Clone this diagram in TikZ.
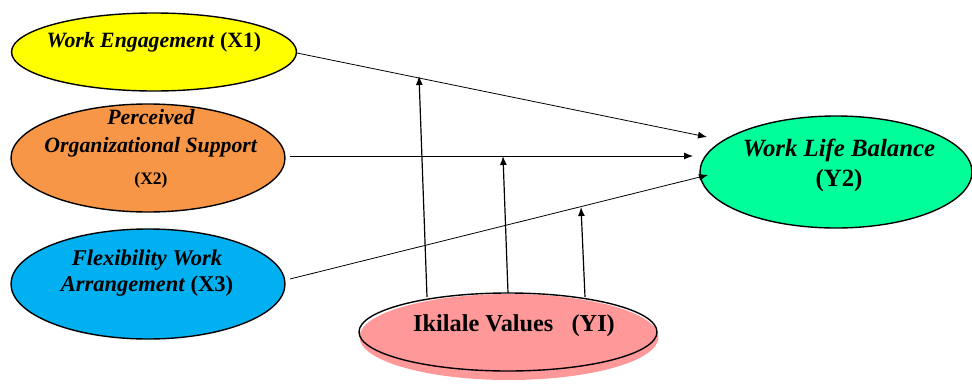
\documentclass[tikz,border=0pt]{standalone}
\usepackage{fontspec}
\setmainfont{Liberation Serif}
\usetikzlibrary{shapes.geometric,arrows.meta}
\definecolor{yel}{RGB}{255,255,0}
\definecolor{ora}{RGB}{247,150,70}
\definecolor{blu}{RGB}{0,176,240}
\definecolor{pnk}{RGB}{255,153,153}
\definecolor{grn}{RGB}{0,255,153}
\begin{document}
\begin{tikzpicture}[x=1pt,y=-1pt,
  oval/.style={ellipse,draw=black,line width=1.4pt,inner sep=0pt},
  lbl/.style={align=center,inner sep=0pt},
  arr/.style={-{Latex[length=9pt,width=7pt]},line width=0.8pt},
  varr/.style={-{Latex[length=9pt,width=7pt]},line width=1.2pt}]
\useasboundingbox (0,0) rectangle (972,383);
% ovals
\node[oval,fill=yel,minimum width=285pt,minimum height=78pt] (x1) at (154,52) {};
\node[oval,fill=ora,minimum width=274pt,minimum height=108pt] (x2) at (148,158) {};
\node[oval,fill=blu,minimum width=274pt,minimum height=110pt] (x3) at (148,284) {};
\node[oval,fill=grn,minimum width=272pt,minimum height=112pt] (y2) at (836,172) {};
\fill[pnk] (509,337) ellipse [x radius=149.5, y radius=43];
\node[oval,minimum width=298pt,minimum height=78pt] (yi) at (508,332) {};
% labels
\node[lbl,font=\fontsize{21.8}{24}\selectfont\bfseries] (x1t) at (154,42) {\textit{Work Engagement} (X1)};
\node[lbl,font=\fontsize{21.8}{28}\selectfont\bfseries] (x2t) at (151,133) {\textit{Perceived}\\\textit{Organizational Support}};
\node[lbl,font=\fontsize{17.5}{20}\selectfont\bfseries] (x2n) at (151,180) {(X2)};
\node[lbl,font=\fontsize{22.5}{26}\selectfont\bfseries] (x3t) at (147,273) {\textit{Flexibility Work}\\\textit{Arrangement} (X3)};
\node[lbl,font=\fontsize{24.8}{30}\selectfont\bfseries] (y2t) at (839,165) {\textit{Work Life Balance}\\(Y2)};
\node[lbl,font=\fontsize{24.3}{26}\selectfont\bfseries] (yit) at (514,326) {Ikilale Values\ \ \ (YI)};
% arrow ends
\coordinate (t1) at (707,137);
\coordinate (t2) at (693,156);
\coordinate (t3) at (708,175);
\coordinate (s1) at (297,53);
\coordinate (s2) at (290,156);
\coordinate (s3) at (290,279);
\coordinate (ya) at (427,297);
\coordinate (yb) at (508,293);
\coordinate (yc) at (585,297);
\coordinate (ta) at (419,76);
\coordinate (tb) at (503,156);
\coordinate (tc) at (581,207);
\draw[arr] (s1) -- (t1);
\draw[arr] (s2) -- (t2);
\draw[arr] (s3) -- (t3);
\draw[varr] (ya) -- (ta);
\draw[varr] (yb) -- (tb);
\draw[varr] (yc) -- (tc);
\end{tikzpicture}
\end{document}
